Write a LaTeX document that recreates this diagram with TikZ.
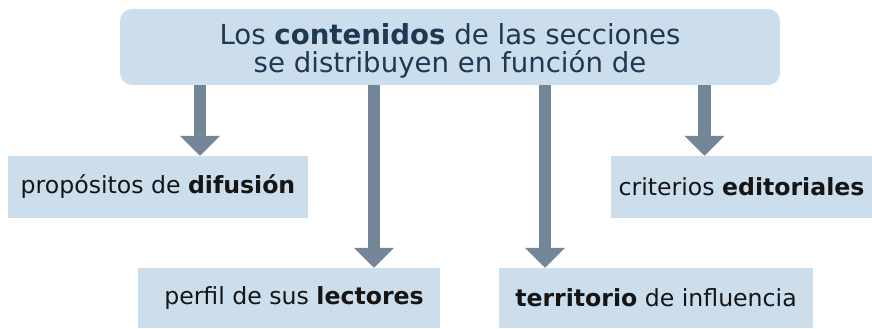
\documentclass[tikz,border=0pt]{standalone}
\usepackage{fontspec}
\setmainfont{DejaVu Sans}
\usetikzlibrary{arrows.meta}
\definecolor{cajaazul}{HTML}{CCDDEC}
\definecolor{flechagris}{HTML}{738698}
\definecolor{textoazul}{HTML}{1E3A52}
\definecolor{textonegro}{HTML}{151515}
\tikzset{
  caja/.style={fill=cajaazul, inner sep=0pt, font=\fontsize{23.6pt}{28pt}\selectfont, text=textonegro},
  flecha/.style={draw=flechagris, line width=12.5pt, -{Triangle[width=39pt,length=20pt]}}
}
\begin{document}
\begin{tikzpicture}[x=1pt,y=1pt]
\useasboundingbox (0,0) rectangle (872,-329);
\node[fill=cajaazul, rounded corners=12pt, minimum width=660pt, minimum height=76pt, inner sep=0pt] (contenidos) at (450,-47) {};
\node[align=center, text=textoazul, inner sep=0pt, font=\fontsize{27.6pt}{28pt}\selectfont] (titulo) at ([yshift=-4pt]contenidos.center)
  {Los \textbf{contenidos} de las secciones\\se distribuyen en función de};
\node[caja, minimum width=300pt, minimum height=62pt] (difusion) at (158,-187) {propósitos de \textbf{difusión}};
\node[caja, minimum width=302pt, minimum height=60pt] (lectores) at (289,-298) {\hspace{10pt}perfil de sus \textbf{lectores}};
\node[caja, minimum width=314pt, minimum height=60pt] (territorio) at (656,-298) {\textbf{territorio} de influencia};
\node[caja, minimum width=261pt, minimum height=62pt] (editoriales) at (741.5,-187) {criterios \textbf{editoriales}};
\coordinate (a1) at ([xshift=42pt]difusion.north);
\coordinate (a2) at ([xshift=85pt]lectores.north);
\coordinate (a3) at ([xshift=-111pt]territorio.north);
\coordinate (a4) at ([xshift=-37pt]editoriales.north);
\draw[flecha] (contenidos.south -| a1) -- (a1);
\draw[flecha] (contenidos.south -| a2) -- (a2);
\draw[flecha] (contenidos.south -| a3) -- (a3);
\draw[flecha] (contenidos.south -| a4) -- (a4);
\end{tikzpicture}
\end{document}
